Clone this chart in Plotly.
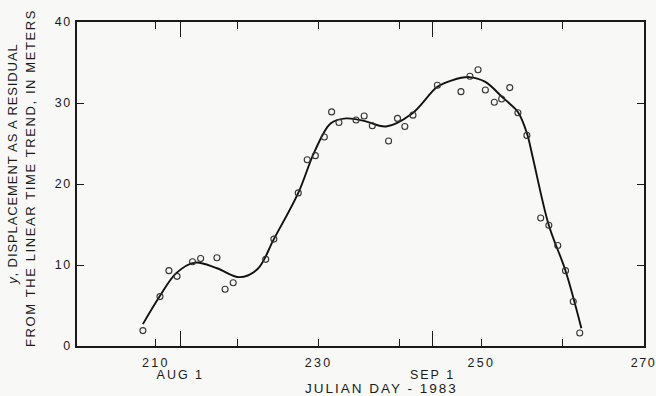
import plotly.graph_objects as go

# Observed residual displacements (open circles)
obs_day = [208.4, 210.5, 211.6, 212.6, 214.5, 215.5, 217.5, 218.5, 219.5, 223.5,
           224.5, 227.5, 228.6, 229.6, 230.7, 231.6, 232.5, 234.6, 235.6, 236.6,
           238.6, 239.7, 240.6, 241.6, 244.6, 247.5, 248.6, 249.6, 250.5, 251.6,
           252.5, 253.5, 254.5, 255.6, 257.3, 258.3, 259.4, 260.35, 261.3, 262.1]
obs_y = [1.9, 6.1, 9.3, 8.6, 10.4, 10.8, 10.9, 7.0, 7.8, 10.7,
         13.2, 18.9, 23.0, 23.5, 25.8, 28.9, 27.6, 27.9, 28.4, 27.2,
         25.3, 28.1, 27.1, 28.5, 32.2, 31.4, 33.3, 34.1, 31.6, 30.1,
         30.5, 31.9, 28.8, 26.0, 15.8, 14.9, 12.4, 9.3, 5.5, 1.6]

# Smoothed fit curve
curve_day = [208.4, 210.45, 212.5, 214.8, 217.5, 220.3, 222.5, 224.5,
             227.5, 229.5, 231.5, 233.4, 235.6, 238.3, 241.5, 244.6,
             246.4, 248.5, 250.5, 252.5, 253.4, 254.5, 255.6, 256.3, 258.3, 260.35, 262.3]
curve_y = [2.7, 6.1, 9.0, 10.3, 9.6, 8.5, 9.5, 13.2,
           18.9, 24.0, 27.5, 28.1, 27.8, 27.1, 28.7, 32.0,
           32.8, 33.2, 32.6, 30.8, 30.0, 28.9, 26.3, 23.4, 14.9, 9.3, 2.2]

x_tickvals = [210, 220, 230, 240, 250, 260, 270]
x_ticktext = ["210", "", "230", "", "250", "", "270"]
month_tickvals = [213, 244]
month_ticktext = ["AUG 1", "SEP 1"]
y_tickvals = [0, 10, 20, 30, 40]
y_ticktext = ["0", "10", "20", "30", "40"]

FONT = "Liberation Sans, Arial, Helvetica, sans-serif"
INK = "#1a1a1a"
BG = "#f8f9f7"

def spaced(t, sp=2.0):
    return f'<span style="letter-spacing:{sp}px">{t}</span>'

def xlab(t):
    # last label sits on the right edge: no trailing spacing, nudged left
    if t == x_ticktext[-1]:
        return spaced(t[:-1], 1.5) + t[-1] + "\u2009"
    return spaced(t, 2.3)

fig = go.Figure()
fig.add_trace(go.Scatter(
    x=curve_day, y=curve_y, mode="lines",
    line=dict(color="#111111", width=1.9, shape="spline", smoothing=1.0),
    showlegend=False, hoverinfo="skip"))
fig.add_trace(go.Scatter(
    x=obs_day, y=obs_y, mode="markers",
    marker=dict(symbol="circle-open", size=6, color="#333333", line=dict(width=1.1)),
    showlegend=False))
# invisible trace to activate the month axis
fig.add_trace(go.Scatter(x=[], y=[], xaxis="x2", showlegend=False))

XR = [200.3, 270]
common = dict(ticks="inside", tickwidth=1.2, tickcolor=INK, showline=True, linecolor=INK,
              linewidth=1.5, mirror="ticks", showgrid=False, zeroline=False,
              automargin=False, ticklabeloverflow="allow", tickfont=dict(size=12.5))
fig.update_layout(
    width=656, height=396,
    margin=dict(l=77, r=12, t=22, b=50, autoexpand=False),
    paper_bgcolor=BG, plot_bgcolor=BG,
    font=dict(family=FONT, size=13, color=INK),
    xaxis=dict(range=XR, tickvals=x_tickvals, ticktext=[xlab(t) for t in x_ticktext],
               ticklen=7, ticklabelstandoff=4, **common),
    xaxis2=dict(range=XR, overlaying="x", side="bottom", anchor="y",
                tickvals=month_tickvals, ticktext=[spaced(t, 2.0) for t in month_ticktext],
                ticklen=15, ticklabelstandoff=16, **common),
    yaxis=dict(range=[0, 40], tickvals=y_tickvals, ticktext=[spaced(t, 1.5) for t in y_ticktext],
               ticklen=7, ticklabelstandoff=1, **common),
    annotations=[
        dict(text=spaced("JULIAN DAY - 1983", 2.0), xref="paper", yref="paper",
             x=0.537, y=-0.13, xanchor="center", yanchor="middle", showarrow=False,
             font=dict(size=13.5, color=INK)),
        dict(text=spaced("<i>y</i>, DISPLACEMENT AS A RESIDUAL", 0.9), xref="paper", yref="paper",
             x=-0.113, y=0.562, xanchor="center", yanchor="middle", textangle=-90,
             showarrow=False, font=dict(size=13, color=INK)),
        dict(text=spaced("FROM THE LINEAR TIME TREND, IN METERS", 1.6), xref="paper", yref="paper",
             x=-0.081, y=0.519, xanchor="center", yanchor="middle", textangle=-90,
             showarrow=False, font=dict(size=13, color=INK)),
    ],
)

fig.write_html("out.html", config={"displayModeBar": False},
               post_script=f"document.body.style.margin='0px';document.body.style.background='{BG}';")
